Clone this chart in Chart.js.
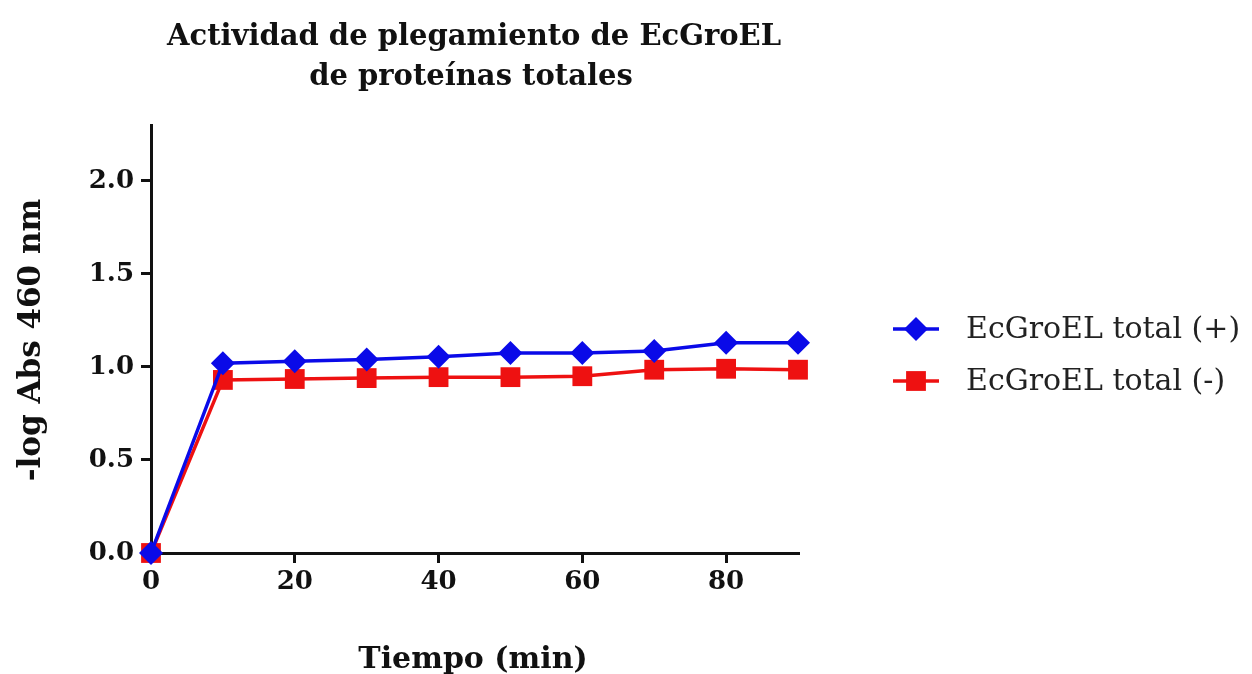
<!DOCTYPE html>
<html>
<head>
<meta charset="utf-8">
<script src="https://cdn.jsdelivr.net/npm/chart.js@4.4.1/dist/chart.umd.min.js"></script>
<style>
  html, body { margin: 0; padding: 0; background: #ffffff; }
  #wrap { position: relative; width: 1252px; height: 674px; }
</style>
</head>
<body>
<div id="wrap"><canvas id="chart" width="1252" height="674"></canvas></div>
<script>
// Time points (min)
const minutes = [0, 10, 20, 30, 40, 50, 60, 70, 80, 90];
// -log Abs 460 nm for each series
const totalPlus = [0, 1.02, 1.03, 1.04, 1.055, 1.075, 1.075, 1.085, 1.13, 1.13];
const totalMinus = [0, 0.93, 0.935, 0.94, 0.945, 0.945, 0.95, 0.985, 0.99, 0.985];
// Axis ticks
const xTicks = [0, 20, 40, 60, 80];
const yTicks = [0, 0.5, 1.0, 1.5, 2.0];
// Labels
const seriesNames = ['EcGroEL total (+)', 'EcGroEL total (-)'];
const titleLines = ['Actividad de plegamiento de EcGroEL', 'de proteínas totales'];
const xTitle = 'Tiempo (min)';
const yTitle = '-log Abs 460 nm';

const SERIF = '"DejaVu Serif", "Liberation Serif", serif';
const BLUE = '#0a0ae8';
const RED = '#ee1111';

function toPoints(ys) { return minutes.map((m, i) => ({ x: m, y: ys[i] })); }

function drawMarker(ctx, style, x, y, r, color) {
  ctx.save();
  ctx.fillStyle = color;
  ctx.beginPath();
  if (style === 'rectRot') {
    ctx.moveTo(x, y - r); ctx.lineTo(x + r, y); ctx.lineTo(x, y + r); ctx.lineTo(x - r, y);
  } else {
    const s = r * Math.SQRT1_2;
    ctx.rect(x - s, y - s, 2 * s, 2 * s);
  }
  ctx.closePath();
  ctx.fill();
  ctx.restore();
}

// Title, axis titles and the legend
const annotations = {
  id: 'annotations',
  afterDraw(chart) {
    const ctx = chart.ctx;
    ctx.save();
    ctx.fillStyle = '#111';
    ctx.textAlign = 'center';
    ctx.textBaseline = 'alphabetic';
    ctx.font = 'bold 29px ' + SERIF;
    ctx.fillText(titleLines[0], 474, 45);
    ctx.fillText(titleLines[1], 471, 85);

    ctx.font = 'bold 30px ' + SERIF;
    ctx.fillText(xTitle, 473, 668);

    ctx.save();
    ctx.translate(40, 340);
    ctx.rotate(-Math.PI / 2);
    ctx.font = 'bold 31px ' + SERIF;
    ctx.fillText(yTitle, 0, 0);
    ctx.restore();

    // legend
    const rows = [329, 381];
    chart.data.datasets.forEach((ds, i) => {
      const y = rows[i];
      ctx.strokeStyle = ds.borderColor;
      ctx.lineWidth = 3.5;
      ctx.beginPath();
      ctx.moveTo(893, y); ctx.lineTo(939, y);
      ctx.stroke();
      drawMarker(ctx, ds.pointStyle, 916, y, ds.pointRadius, ds.backgroundColor);
      ctx.fillStyle = '#222';
      ctx.textAlign = 'left';
      ctx.textBaseline = 'middle';
      ctx.font = '30px ' + SERIF;
      ctx.fillText(ds.label, 966, y + 1);
    });
    ctx.restore();
  }
};

new Chart(document.getElementById('chart'), {
  type: 'line',
  data: {
    datasets: [
      {
        label: seriesNames[0],
        data: toPoints(totalPlus),
        borderColor: BLUE,
        backgroundColor: BLUE,
        borderWidth: 3.5,
        pointStyle: 'rectRot',
        pointRadius: 12,
        pointHoverRadius: 12,
        pointBorderWidth: 0,
        clip: false,
        tension: 0
      },
      {
        label: seriesNames[1],
        data: toPoints(totalMinus),
        borderColor: RED,
        backgroundColor: RED,
        borderWidth: 3.5,
        pointStyle: 'rect',
        pointRadius: 14,
        pointHoverRadius: 14,
        pointBorderWidth: 0,
        clip: false,
        tension: 0
      }
    ]
  },
  options: {
    responsive: false,
    animation: false,
    events: [],
    layout: { padding: { top: 125, right: 454, left: 0, bottom: 0 } },
    plugins: {
      legend: { display: false },
      title: { display: false },
      tooltip: { enabled: false }
    },
    scales: {
      x: {
        type: 'linear',
        min: 0,
        max: 90,
        afterFit(scale) { scale.height = 121; },
        afterBuildTicks(scale) { scale.ticks = xTicks.map(v => ({ value: v })); },
        grid: { drawOnChartArea: false, drawTicks: true, tickLength: 10, lineWidth: 3, color: '#111' },
        border: { display: true, width: 3, color: '#111' },
        ticks: {
          color: '#111',
          padding: 4,
          font: { family: SERIF, size: 26, weight: 'bold' },
          callback: v => String(v)
        }
      },
      y: {
        min: 0,
        max: 2.3,
        afterFit(scale) { scale.width = 151; },
        afterBuildTicks(scale) { scale.ticks = yTicks.map(v => ({ value: v })); },
        grid: { drawOnChartArea: false, drawTicks: true, tickLength: 10, lineWidth: 3, color: '#111' },
        border: { display: true, width: 3, color: '#111' },
        ticks: {
          color: '#111',
          padding: 7,
          font: { family: SERIF, size: 26, weight: 'bold' },
          callback: v => Number(v).toFixed(1)
        }
      }
    }
  },
  plugins: [annotations]
});
</script>
</body>
</html>
